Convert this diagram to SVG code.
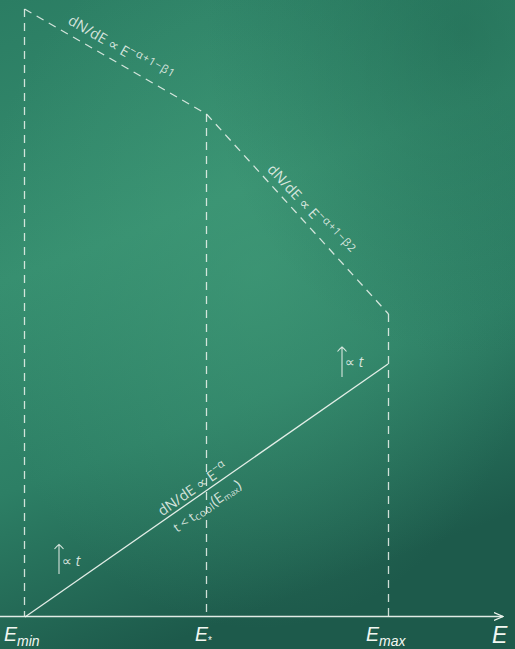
<svg xmlns="http://www.w3.org/2000/svg" width="515" height="649" viewBox="0 0 515 649">
<defs>
<linearGradient id="bg" x1="0" y1="0" x2="0.3" y2="1">
<stop offset="0" stop-color="#2b7d63"/>
<stop offset="0.4" stop-color="#368e6f"/>
<stop offset="0.7" stop-color="#2d7f65"/>
<stop offset="1" stop-color="#1d5a4b"/>
</linearGradient>
<radialGradient id="glow" cx="0.5" cy="0.42" r="0.55">
<stop offset="0" stop-color="#45a07c" stop-opacity="0.5"/>
<stop offset="1" stop-color="#45a07c" stop-opacity="0"/>
</radialGradient>
<radialGradient id="dark" cx="0.9" cy="0.05" r="0.5">
<stop offset="0" stop-color="#1a5f4b" stop-opacity="0.45"/>
<stop offset="1" stop-color="#1a5f4b" stop-opacity="0"/>
</radialGradient>
<marker id="arr" viewBox="0 0 10 10" refX="9" refY="5" markerWidth="10" markerHeight="10" markerUnits="userSpaceOnUse" orient="auto">
<path d="M0,1 L9,5 L0,9" fill="none" stroke="#eef4ee" stroke-width="1.2"/>
</marker>
</defs>
<style>
.dash{fill:none;stroke:#eef4ee;stroke-opacity:0.85;stroke-width:1.3;stroke-dasharray:8 6}
.solid{fill:none;stroke:#f2f7f2;stroke-opacity:0.92;stroke-width:1.3}
.thin{fill:none;stroke:#eef4ee;stroke-opacity:0.88;stroke-width:1.1}
.lbl{font-family:"Open Sans","DejaVu Sans",sans-serif;fill:#eef4ee;fill-opacity:0.88}
.prop{font-family:"DejaVu Sans",sans-serif}
.ax{font-family:"Liberation Sans",sans-serif;font-style:italic;fill:#f2f7f2}
</style>
<rect width="515" height="649" fill="url(#bg)"/>
<rect width="515" height="649" fill="url(#glow)"/>
<rect width="515" height="649" fill="url(#dark)"/>
<g id="connectors">
<line class="dash" x1="24.5" y1="9" x2="24.5" y2="616"/>
<line class="dash" x1="206.5" y1="114" x2="206.5" y2="616"/>
<line class="dash" x1="388.5" y1="314" x2="388.5" y2="616"/>
<polyline class="dash" points="24.5,9 206.5,114 388.5,314"/>
<line class="solid" x1="0" y1="616.5" x2="503" y2="616.5" marker-end="url(#arr)"/>
<line class="solid" x1="25" y1="617" x2="388" y2="364"/>
<path class="thin" d="M342,377 L342,347.5 M337.5,351.5 Q340,348.5 342,347 Q344,348.5 346.5,351.5"/>
<path class="thin" d="M59,574 L59,545 M54.5,549 Q57,546 59,544.5 Q61,546 63.5,549"/>
</g>
<g id="label-beta1" transform="translate(24.5,9) rotate(30.2)">
<text class="lbl" x="44" y="-9" font-size="14.5">dN/dE <tspan class="prop">∝</tspan> E<tspan dy="-6" font-size="11" letter-spacing="0.8">−α+1−β1</tspan></text>
</g>
<g id="label-beta2" transform="translate(206.5,114) rotate(47.2)">
<text class="lbl" x="82" y="-6" font-size="14.5">dN/dE <tspan class="prop">∝</tspan> E<tspan dy="-6" font-size="11" letter-spacing="0.8">−α+1−β2</tspan></text>
</g>
<g id="label-alpha" transform="translate(25,617) rotate(-34.9)">
<text class="lbl" x="170" y="-4" font-size="14.5">dN/dE <tspan class="prop">∝</tspan> E<tspan dy="-6" font-size="11">−α</tspan></text>
<text class="lbl" x="173" y="18" font-size="13">t &lt; t<tspan dy="2" font-size="10.5" letter-spacing="0.5">cool</tspan><tspan dy="-2" font-size="14.5">(E</tspan><tspan dy="2" font-size="8.5">max</tspan><tspan dy="-2" font-size="14.5">)</tspan></text>
</g>
<g id="label-t-upper">
<text class="lbl" x="345" y="367" font-size="14"><tspan class="prop">∝</tspan> <tspan font-style="italic">t</tspan></text>
</g>
<g id="label-t-lower">
<text class="lbl" x="62" y="566" font-size="14"><tspan class="prop">∝</tspan> <tspan font-style="italic">t</tspan></text>
</g>
<g id="axis-labels">
<text class="ax" x="4" y="641" font-size="19.5">E<tspan dy="5" font-size="14">min</tspan></text>
<text class="ax" x="195" y="641" font-size="19.5">E<tspan dy="3" font-size="10" font-style="normal">*</tspan></text>
<text class="ax" x="366" y="641" font-size="19.5">E<tspan dy="5" font-size="14">max</tspan></text>
<text class="ax" x="492" y="643" font-size="23">E</text>
</g>
</svg>
